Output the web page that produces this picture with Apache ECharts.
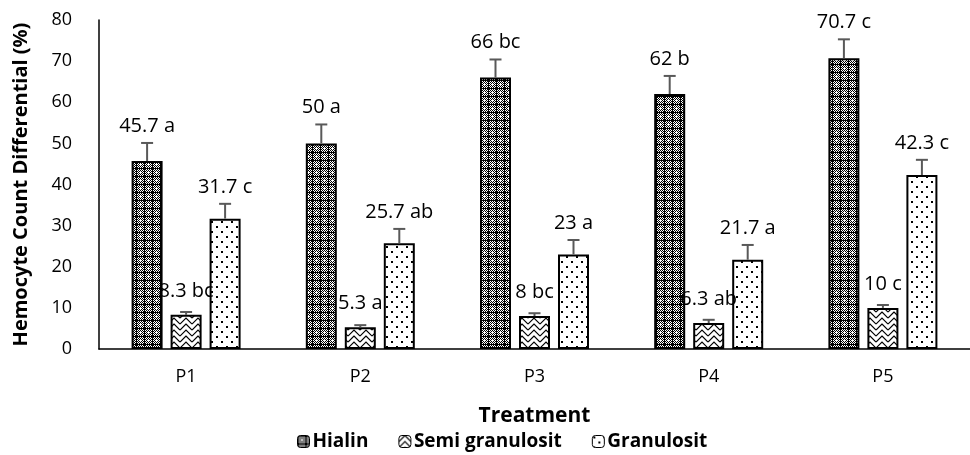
<!DOCTYPE html>
<html>
<head>
<meta charset="utf-8">
<script src="https://cdn.jsdelivr.net/npm/echarts@6/dist/echarts.min.js"></script>
<style>html,body{margin:0;padding:0;background:#fff}#c{width:970px;height:455px}</style>
</head>
<body>
<div id="c"></div>
<script>
const categories = ['P1', 'P2', 'P3', 'P4', 'P5'];
const seriesNames = ['Hialin', 'Semi granulosit', 'Granulosit'];
const hialin = [45.7, 50, 66, 62, 70.7];
const semi = [8.3, 5.3, 8, 6.3, 10];
const granulosit = [31.7, 25.7, 23, 21.7, 42.3];
const hialinErr = [4.4, 4.6, 4.4, 4.4, 4.6];
const semiErr = [0.7, 0.5, 0.7, 0.8, 0.7];
const granulositErr = [3.6, 3.5, 3.5, 3.6, 3.7];
const hialinLetters = ['a', 'a', 'bc', 'b', 'c'];
const semiLetters = ['bc', 'a', 'bc', 'ab', 'c'];
const granulositLetters = ['c', 'ab', 'a', 'a', 'c'];
const yTicks = [0, 10, 20, 30, 40, 50, 60, 70, 80];

function tile(w, h, draw) {
  const c = document.createElement('canvas');
  c.width = w; c.height = h;
  const g = c.getContext('2d');
  draw(g, w, h);
  return c;
}
const patHialin = tile(8, 8, (g) => {
  g.fillStyle = '#fff'; g.fillRect(0, 0, 8, 8);
  g.fillStyle = '#000';
  for (let i = 0; i < 8; i++) for (let j = 0; j < 8; j++) if ((i + j) % 2 === 0) g.fillRect(i, j, 1, 1);
  g.fillRect(0, 0, 8, 1); g.fillRect(0, 0, 1, 8);
  g.fillStyle = '#fff';
  g.fillRect(3, 4, 3, 1); g.fillRect(4, 3, 1, 3);
});
const patSemi = tile(12, 12, (g) => {
  g.fillStyle = '#fff'; g.fillRect(0, 0, 12, 12);
  g.strokeStyle = '#000'; g.lineWidth = 1.2;
  g.beginPath();
  for (let row = -12; row <= 12; row += 6) {
    g.moveTo(0, row + 6); g.lineTo(6, row); g.lineTo(12, row + 6);
  }
  g.stroke();
});
const patGran = tile(10, 10, (g) => {
  g.fillStyle = '#fff'; g.fillRect(0, 0, 10, 10);
  g.fillStyle = '#000';
  g.fillRect(1, 1, 2, 2); g.fillRect(6, 6, 2, 2);
});

const pxPerUnit = 329 / 80;
const barW = 31, gapPx = 8;
const offsets = [-(barW + gapPx), 0, barW + gapPx];

function barData(vals, errs, letters, mode) {
  return vals.map((v, i) => ({
    value: v,
    label: {
      distance: mode === 'semi' ? 14 : errs[i] * pxPerUnit + 7,
      formatter: v + ' ' + letters[i]
    }
  }));
}
function barSeries(name, vals, errs, letters, pat, mode) {
  return {
    name: name, type: 'bar', barWidth: barW, barGap: (gapPx / barW * 100) + '%',
    data: barData(vals, errs, letters, mode),
    itemStyle: { color: { image: pat, repeat: 'repeat' }, borderColor: '#000', borderWidth: 2 },
    label: { show: true, position: 'top', color: '#000', fontSize: 20, fontFamily: 'Open Sans' },
    z: 2
  };
}
function errSeries(vals, errs, k) {
  return {
    type: 'custom', silent: true, z: 3,
    data: vals.map((v, i) => [i, v, errs[i]]),
    renderItem: function (params, api) {
      const i = api.value(0), v = api.value(1), e = api.value(2);
      const p0 = api.coord([i, v]);
      const p1 = api.coord([i, v + e]);
      const x = p0[0] + offsets[k];
      const style = { stroke: '#595959', lineWidth: 2 };
      return {
        type: 'group', children: [
          { type: 'line', shape: { x1: x, y1: p0[1], x2: x, y2: p1[1] }, style: style },
          { type: 'line', shape: { x1: x - 6, y1: p1[1], x2: x + 6, y2: p1[1] }, style: style }
        ]
      };
    }
  };
}

const chart = echarts.init(document.getElementById('c'), null, { renderer: 'canvas' });
chart.setOption({
  animation: false,
  backgroundColor: '#fff',
  textStyle: { fontFamily: 'Open Sans' },
  grid: { left: 99, top: 20, width: 882, height: 329 },
  legend: {
    data: seriesNames, top: 427, left: 292, itemWidth: 12, itemHeight: 12, itemGap: 30,
    textStyle: { fontSize: 19, fontWeight: 'bold', color: '#000', fontFamily: 'Open Sans', padding: [0, 0, 0, -2] },
    itemStyle: { borderColor: '#000', borderWidth: 1 }
  },
  xAxis: {
    type: 'category', data: categories,
    axisLine: { lineStyle: { color: '#000', width: 1.5 } },
    axisTick: { show: false },
    axisLabel: { color: '#000', fontSize: 18, margin: 19 },
    name: 'Treatment', nameLocation: 'middle', nameGap: 57,
    nameTextStyle: { fontSize: 21, fontWeight: 'bold', color: '#000' }
  },
  yAxis: {
    type: 'value', min: yTicks[0], max: yTicks[yTicks.length - 1], interval: 10,
    axisLine: { show: true, lineStyle: { color: '#000', width: 1.5 } },
    axisTick: { show: false },
    splitLine: { show: false },
    axisLabel: { color: '#000', fontSize: 18, margin: 27 },
    name: 'Hemocyte Count Differential (%)', nameLocation: 'middle', nameGap: 68,
    nameTextStyle: { fontSize: 20, fontWeight: 'bold', color: '#000' }
  },
  series: [
    barSeries(seriesNames[0], hialin, hialinErr, hialinLetters, patHialin, 'top'),
    barSeries(seriesNames[1], semi, semiErr, semiLetters, patSemi, 'semi'),
    barSeries(seriesNames[2], granulosit, granulositErr, granulositLetters, patGran, 'top'),
    errSeries(hialin, hialinErr, 0),
    errSeries(semi, semiErr, 1),
    errSeries(granulosit, granulositErr, 2)
  ]
});
</script>
</body>
</html>
